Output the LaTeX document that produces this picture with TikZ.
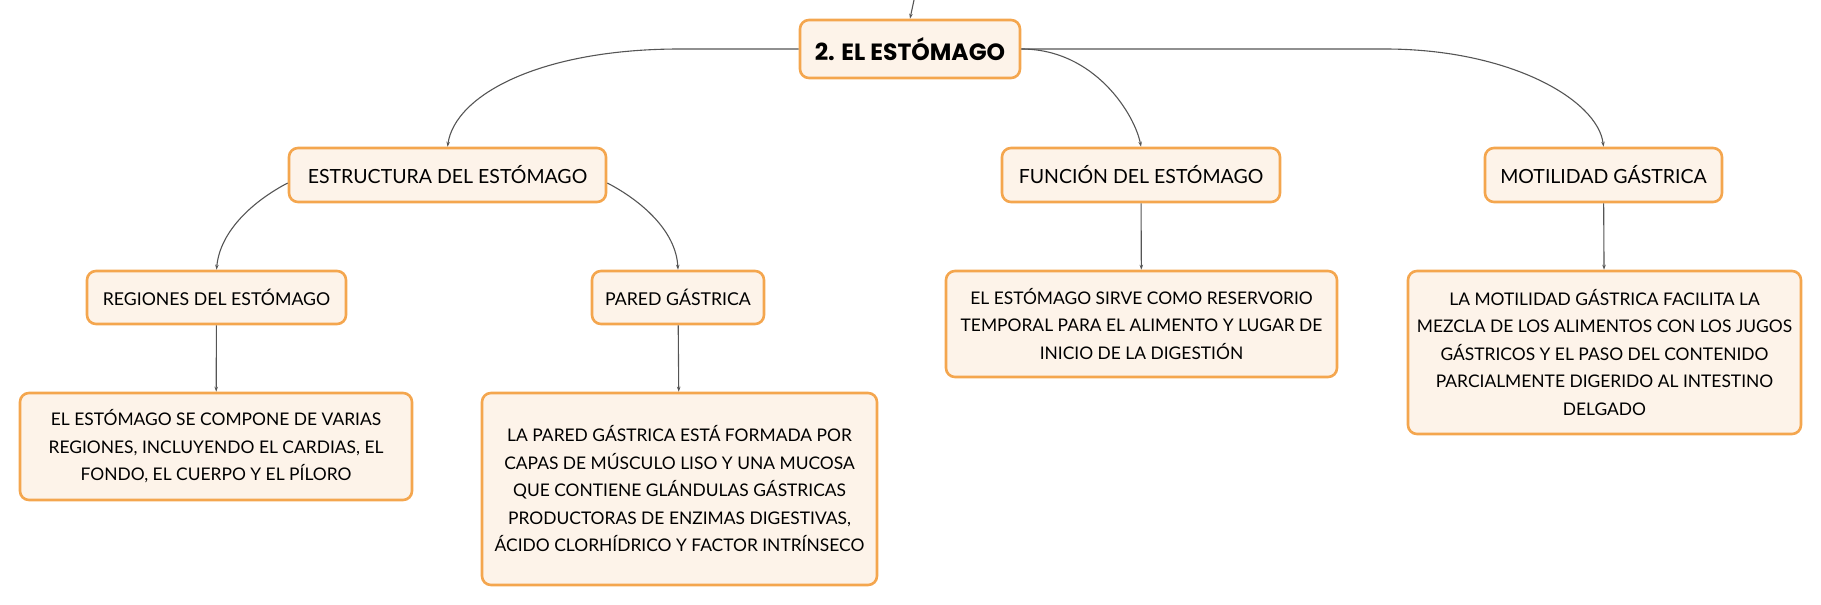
\documentclass[tikz,border=0pt]{standalone}
\usepackage{fontspec}
\setmainfont{Lato}
\newfontfamily\rootfont{Poppins}
\usetikzlibrary{arrows.meta}
\definecolor{boxfill}{HTML}{FDF3E9}
\definecolor{boxline}{HTML}{F4A64E}
\definecolor{conn}{HTML}{555555}
\tikzset{
  mbox/.style={draw=boxline, line width=2.6pt, fill=boxfill, rounded corners=9pt, inner sep=0pt, align=center, text=black},
  titlebox/.style={mbox, font=\fontsize{19.5}{22}\selectfont},
  subbox/.style={mbox, font=\fontsize{17.7}{20}\selectfont},
  bodybox/.style={mbox, font=\fontsize{17.4}{27.5}\selectfont},
  link/.style={draw=conn, line width=1.1pt, -{Stealth[length=5pt,width=3.5pt]}},
}
\begin{document}
\begin{tikzpicture}[x=1pt,y=-1pt]
\useasboundingbox (0,0) rectangle (1821,605);
\node[mbox, minimum width=220pt, minimum height=58pt, font=\rootfont\bfseries\fontsize{23.5}{26}\selectfont] (root) at (910,49) {2. EL ESTÓMAGO};
\node[titlebox, minimum width=317pt, minimum height=54pt] (estr) at (447.5,175) {ESTRUCTURA DEL ESTÓMAGO};
\node[titlebox, minimum width=278pt, minimum height=54pt] (func) at (1141,175) {FUNCIÓN DEL ESTÓMAGO};
\node[titlebox, minimum width=237pt, minimum height=54pt] (moti) at (1603.5,175) {MOTILIDAD GÁSTRICA};
\node[subbox, minimum width=259pt, minimum height=53pt] (regi) at (216.5,297.5) {REGIONES DEL ESTÓMAGO};
\node[subbox, minimum width=172pt, minimum height=53pt] (pare) at (678,297.5) {PARED GÁSTRICA};
\node[bodybox, minimum width=392pt, minimum height=107pt] (regt) at (216,446.5) {EL ESTÓMAGO SE COMPONE DE VARIAS\\REGIONES, INCLUYENDO EL CARDIAS, EL\\FONDO, EL CUERPO Y EL PÍLORO};
\node[bodybox, minimum width=395pt, minimum height=192pt] (paret) at (679.5,489) {LA PARED GÁSTRICA ESTÁ FORMADA POR\\CAPAS DE MÚSCULO LISO Y UNA MUCOSA\\QUE CONTIENE GLÁNDULAS GÁSTRICAS\\PRODUCTORAS DE ENZIMAS DIGESTIVAS,\\ÁCIDO CLORHÍDRICO Y FACTOR INTRÍNSECO};
\node[bodybox, minimum width=391pt, minimum height=106pt] (funct) at (1141.5,324) {EL ESTÓMAGO SIRVE COMO RESERVORIO\\TEMPORAL PARA EL ALIMENTO Y LUGAR DE\\INICIO DE LA DIGESTIÓN};
\node[bodybox, minimum width=393pt, minimum height=163pt] (motit) at (1604.5,352.5) {LA MOTILIDAD GÁSTRICA FACILITA LA\\MEZCLA DE LOS ALIMENTOS CON LOS JUGOS\\GÁSTRICOS Y EL PASO DEL CONTENIDO\\PARCIALMENTE DIGERIDO AL INTESTINO\\DELGADO};
\coordinate (topin) at (914,0);
\draw[link] (topin) -- (root.north);
\draw[link] (root.west) -- (680,49) .. controls (540,49) and (455,95) .. (estr.north);
\draw[link] (root.east) .. controls (1095,49) and (1135,115) .. (func.north);
\draw[link] (root.east) -- (1385,49) .. controls (1510,49) and (1598,100) .. (moti.north);
\draw[link] (estr.west |- 0,183) .. controls (255,200) and (220,230) .. (regi.north);
\draw[link] (estr.east |- 0,183) .. controls (640,200) and (676,230) .. (pare.north);
\draw[link] (regi) -- (regt);
\draw[link] (pare) -- (paret);
\draw[link] (func) -- (funct);
\draw[link] (moti) -- (motit);
\end{tikzpicture}
\end{document}
